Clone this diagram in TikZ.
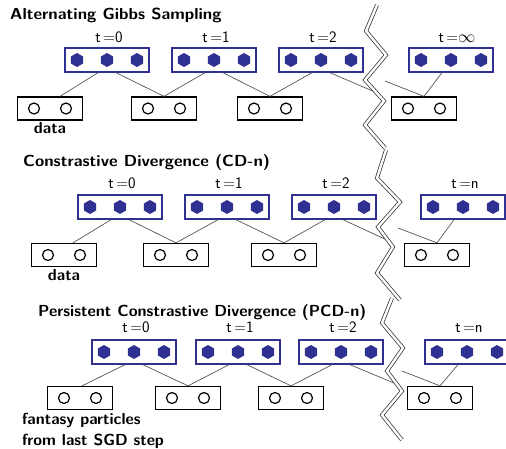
\documentclass[tikz,border=0pt]{standalone}
\usepackage{graphicx}
\usetikzlibrary{shapes.geometric}
\definecolor{hidblue}{RGB}{46,49,146}
\definecolor{linkgray}{RGB}{85,85,85}
\newcommand{\widetext}[2]{\scalebox{#1}[1]{#2}}
\tikzset{
  hidbox/.style={draw=hidblue, line width=1.4pt, minimum width=84pt, minimum height=24pt, inner sep=0pt},
  visbox/.style={draw=black, line width=1.3pt, minimum width=65pt, minimum height=23pt, inner sep=0pt},
  hexunit/.style={regular polygon, regular polygon sides=6, shape border rotate=30, fill=hidblue, minimum size=14pt, inner sep=0pt},
  visunit/.style={circle, draw=black, line width=1.2pt, minimum size=11pt, inner sep=0pt},
  link/.style={draw=linkgray, line width=0.7pt},
  cutline/.style={draw=black!80, line width=0.75pt, double=white, double distance=2.4pt},
  rowtitle/.style={font=\sffamily\bfseries\fontsize{16}{18}\selectfont, anchor=base west, inner sep=0pt},
  steplabel/.style={font=\sffamily\fontsize{16}{18}\selectfont, anchor=base, inner sep=0pt},
  note/.style={font=\sffamily\bfseries\fontsize{16}{18}\selectfont, inner sep=0pt}
}
\begin{document}
\begin{tikzpicture}[x=1pt,y=-1pt]
\useasboundingbox (0,0) rectangle (506,448);

% Alternating Gibbs Sampling
\node[rowtitle] (gtitle) at (10,19) {\widetext{1.05}{Alternating Gibbs Sampling}};
\node[hidbox] (g0) at (107,60) {};
\node[hidbox] (g1) at (214,60) {};
\node[hidbox] (g2) at (321,60) {};
\node[hidbox] (g3) at (451,60) {};
\node[visbox] (gv0) at (50,108.5) {};
\node[visbox] (gv1) at (164,108.5) {};
\node[visbox] (gv2) at (270,108.5) {};
\node[visbox] (gv3) at (424,108.5) {};
\node[steplabel] (gl0) at ([xshift=2pt,yshift=5pt]g0.north) {t\hspace{2.5pt}=0};
\node[steplabel] (gl1) at ([xshift=2pt,yshift=5pt]g1.north) {t\hspace{2.5pt}=1};
\node[steplabel] (gl2) at ([xshift=2pt,yshift=5pt]g2.north) {t\hspace{2.5pt}=2};
\node[steplabel] (gl3) at ([xshift=6pt,yshift=5pt]g3.north) {t\hspace{2.5pt}=$\infty$};
\node[note, anchor=north] (gdata) at ([yshift=-2pt]gv0.south) {data};
\coordinate (gcutL) at (375,92);
\coordinate (gcutR) at (385,81);
\draw[link] ([xshift=-9pt]g0.south) -- ([xshift=10pt]gv0.north);
\draw[link] ([xshift=9pt]g0.south) -- (gv1.north);
\draw[link] ([xshift=-9pt]g1.south) -- (gv1.north);
\draw[link] ([xshift=9pt]g1.south) -- (gv2.north);
\draw[link] ([xshift=-9pt]g2.south) -- (gv2.north);
\draw[link] ([xshift=9pt]g2.south) -- (gcutL);
\draw[link] (gcutR) -- (gv3.north);
\draw[link] ([xshift=-9pt]g3.south) -- (gv3.north);
\draw[cutline] (377,5) -- (366,31) -- (386,55) -- (365,80) -- (384,101) -- (365,125) -- (385,148);

% Constrastive Divergence
\node[rowtitle] (ctitle) at (23,166) {\widetext{1.05}{Constrastive Divergence (CD-n)}};
\node[hidbox] (c0) at (120,207) {};
\node[hidbox] (c1) at (227,207) {};
\node[hidbox] (c2) at (334,207) {};
\node[hidbox] (c3) at (463,207) {};
\node[visbox] (cv0) at (64,255) {};
\node[visbox] (cv1) at (176,255) {};
\node[visbox] (cv2) at (284,255) {};
\node[visbox] (cv3) at (437,255) {};
\node[steplabel] (cl0) at ([xshift=2pt,yshift=6pt]c0.north) {t\hspace{2.5pt}=0};
\node[steplabel] (cl1) at ([xshift=2pt,yshift=6pt]c1.north) {t\hspace{2.5pt}=1};
\node[steplabel] (cl2) at ([xshift=2pt,yshift=6pt]c2.north) {t\hspace{2.5pt}=2};
\node[steplabel] (cl3) at ([xshift=2pt,yshift=6pt]c3.north) {t\hspace{2.5pt}=n};
\node[note, anchor=north] (cdata) at ([yshift=-2pt]cv0.south) {data};
\coordinate (ccutL) at (387,240);
\coordinate (ccutR) at (398,228);
\draw[link] ([xshift=-9pt]c0.south) -- ([xshift=9pt]cv0.north);
\draw[link] ([xshift=9pt]c0.south) -- (cv1.north);
\draw[link] ([xshift=-9pt]c1.south) -- (cv1.north);
\draw[link] ([xshift=9pt]c1.south) -- (cv2.north);
\draw[link] ([xshift=-9pt]c2.south) -- (cv2.north);
\draw[link] ([xshift=9pt]c2.south) -- (ccutL);
\draw[link] (ccutR) -- (cv3.north);
\draw[link] ([xshift=-9pt]c3.south) -- (cv3.north);
\draw[cutline] (386,150) -- (377,178) -- (400,202) -- (378,227) -- (393,247) -- (377,273) -- (400,300);

% Persistent Constrastive Divergence
\node[rowtitle] (ptitle) at (38,316) {\widetext{1.01}{Persistent Constrastive Divergence (PCD-n)}};
\node[hidbox] (p0) at (134,352) {};
\node[hidbox] (p1) at (238,352) {};
\node[hidbox] (p2) at (341,352) {};
\node[hidbox] (p3) at (467,352) {};
\node[visbox] (pv0) at (80,398) {};
\node[visbox] (pv1) at (188,398) {};
\node[visbox] (pv2) at (291,398) {};
\node[visbox] (pv3) at (440,398) {};
\node[steplabel] (pl0) at ([xshift=2pt,yshift=7pt]p0.north) {t\hspace{2.5pt}=0};
\node[steplabel] (pl1) at ([xshift=2pt,yshift=7pt]p1.north) {t\hspace{2.5pt}=1};
\node[steplabel] (pl2) at ([xshift=2pt,yshift=7pt]p2.north) {t\hspace{2.5pt}=2};
\node[steplabel] (pl3) at ([xshift=2pt,yshift=7pt]p3.north) {t\hspace{2.5pt}=n};
\node[note, anchor=north west, align=left, font=\sffamily\bfseries\fontsize{16}{21}\selectfont] (pdata) at ([xshift=-25pt,yshift=-3pt]pv0.south west) {fantasy particles\\from last SGD step};
\coordinate (pcutL) at (394,383);
\coordinate (pcutR) at (402,371);
\draw[link] ([xshift=-9pt]p0.south) -- ([xshift=2pt]pv0.north);
\draw[link] ([xshift=9pt]p0.south) -- (pv1.north);
\draw[link] ([xshift=-9pt]p1.south) -- (pv1.north);
\draw[link] ([xshift=9pt]p1.south) -- (pv2.north);
\draw[link] ([xshift=-9pt]p2.south) -- (pv2.north);
\draw[link] ([xshift=9pt]p2.south) -- (pcutL);
\draw[link] (pcutR) -- (pv3.north);
\draw[link] ([xshift=-9pt]p3.south) -- (pv3.north);
\draw[cutline] (392,298) -- (382,323) -- (403,348) -- (387,371) -- (402,391) -- (382,415) -- (402,440);

% units inside the boxes
\foreach \b in {g0,g1,g2,g3,c0,c1,c2,c3,p0,p1,p2,p3}
  \foreach \dx [count=\i] in {-30,0,30}
    \node[hexunit] (\b-\i) at ([xshift=\dx pt]\b.center) {};
\foreach \b in {gv0,gv1,gv2,gv3,cv0,cv1,cv2,cv3,pv0,pv1,pv2,pv3}
  \foreach \dx [count=\i] in {-16,16}
    \node[visunit] (\b-\i) at ([xshift=\dx pt]\b.center) {};
\end{tikzpicture}
\end{document}
